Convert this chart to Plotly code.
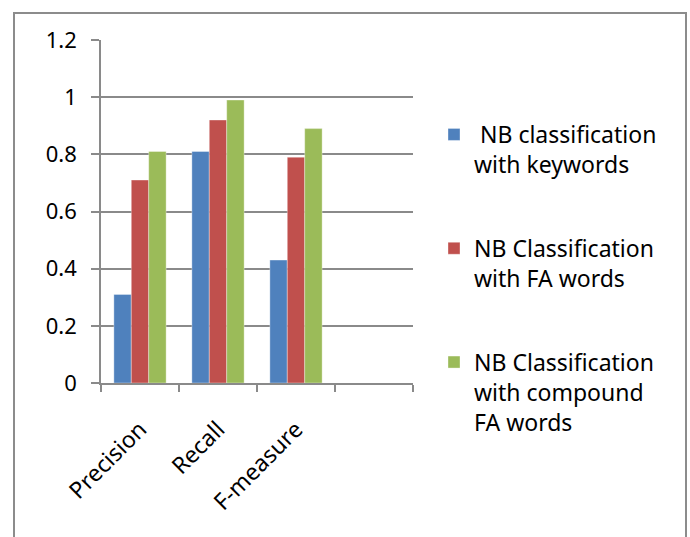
import plotly.graph_objects as go

# Evaluation metrics on the category axis; the trailing blank slot keeps
# an empty fourth column at the right end of the axis, as in the source chart.
metrics = ["Precision", "Recall", "F-measure"]
spare_slot = [" "]

series_names = [
    " NB classification<br>with keywords",
    "NB Classification<br>with FA words",
    "NB Classification<br>with compound<br>FA words",
]
keywords_scores = [0.31, 0.81, 0.43]
fa_word_scores = [0.71, 0.92, 0.79]
compound_fa_scores = [0.81, 0.99, 0.89]
series_colors = ["#4F81BD", "#C0504D", "#9BBB59"]

y_ticks = [0, 0.2, 0.4, 0.6, 0.8, 1.0, 1.2]
y_tick_text = ["0", "0.2", "0.4", "0.6", "0.8", "1", "1.2"]

FONT = "'Noto Sans', 'Open Sans', sans-serif"
GRID = "#8a8a8a"

fig = go.Figure()
for i, (name, vals, color) in enumerate(
    zip(series_names, [keywords_scores, fa_word_scores, compound_fa_scores], series_colors)
):
    fig.add_trace(
        go.Bar(
            x=metrics + spare_slot,
            y=vals + [None],
            name=name,
            legendgroup=f"g{i}",
            marker=dict(color=color, line=dict(color="rgba(255,255,255,0.35)", width=1)),
        )
    )

W, H = 690, 537
L, R, T, B = 101, 277, 40, 154
pw, ph = W - L - R, H - T - B


def px_x(px):
    return (px - L) / pw


def px_y(py):
    return (H - B - py) / ph


fig.update_layout(
    width=W,
    height=H,
    margin=dict(l=L, r=R, t=T, b=B),
    paper_bgcolor="white",
    plot_bgcolor="white",
    barmode="group",
    bargap=0.33,
    bargroupgap=0,
    font=dict(family=FONT, size=22, color="#000000"),
    showlegend=True,
    legend=dict(
        x=px_x(434),
        y=px_y(113),
        xanchor="left",
        yanchor="top",
        valign="top",
        tracegroupgap=51,
        font=dict(family=FONT, size=23, color="#000000"),
        bgcolor="rgba(0,0,0,0)",
    ),
    xaxis=dict(
        type="category",
        categoryorder="array",
        categoryarray=metrics + spare_slot,
        range=[-0.5, 3.5],
        tickson="boundaries",
        ticks="outside",
        ticklen=7,
        tickwidth=1.5,
        tickcolor=GRID,
        tickangle=-45,
        ticklabelstandoff=22,
        showline=True,
        linecolor=GRID,
        linewidth=1.5,
        showgrid=False,
        fixedrange=True,
        tickfont=dict(family=FONT, size=23, color="#000000"),
    ),
    yaxis=dict(
        range=[0, 1.2],
        tickvals=y_ticks,
        ticktext=y_tick_text,
        ticks="outside",
        ticklen=8,
        tickwidth=1.5,
        tickcolor=GRID,
        ticklabelstandoff=10,
        showline=True,
        linecolor=GRID,
        linewidth=1.5,
        showgrid=True,
        gridcolor=GRID,
        gridwidth=1.5,
        zeroline=False,
        fixedrange=True,
        tickfont=dict(family=FONT, size=22, color="#000000"),
    ),
    shapes=[
        # outer frame around the whole chart
        dict(
            type="rect",
            xref="paper",
            yref="paper",
            x0=px_x(14),
            x1=px_x(686),
            y0=px_y(580),
            y1=px_y(13),
            line=dict(color="#8c8c8c", width=2),
            fillcolor="rgba(0,0,0,0)",
            layer="above",
        )
    ],
)

fig.write_html("out.html")
